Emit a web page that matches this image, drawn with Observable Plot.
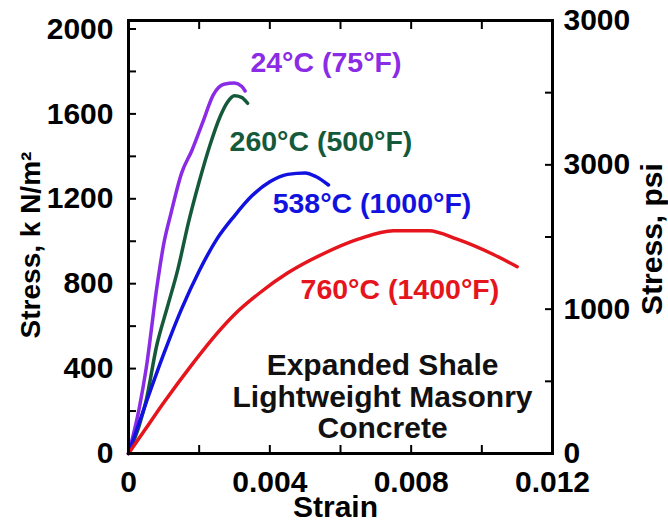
<!DOCTYPE html>
<html><head><meta charset="utf-8">
<script src="https://cdn.jsdelivr.net/npm/d3@7"></script>
<script src="https://cdn.jsdelivr.net/npm/@observablehq/plot@0.6"></script>
<style>body{margin:0;background:#fff} svg{display:block}</style>
</head><body><div id="chart"></div>
<script>
const seriesNames = ["24°C (75°F)", "260°C (500°F)", "538°C (1000°F)", "760°C (1400°F)"];
const seriesColors = ["#8a2be6", "#145a3a", "#1212e0", "#e6141c"];

const strain24 = [0, 0.0003, 0.0005, 0.0008, 0.001, 0.0012, 0.0015, 0.0018, 0.0021, 0.0024, 0.0027, 0.003, 0.0032, 0.0033];
const stress24 = [0, 210, 400, 780, 990, 1130, 1320, 1430, 1560, 1690, 1740, 1745, 1730, 1708];
const strain260 = [0, 0.0003, 0.0005, 0.0008, 0.0011, 0.0014, 0.0017, 0.002, 0.0023, 0.0026, 0.0028, 0.003, 0.0032, 0.00337];
const stress260 = [0, 130, 250, 510, 690, 870, 1090, 1280, 1450, 1590, 1655, 1685, 1678, 1650];
const strain538 = [0, 0.0005, 0.001, 0.0015, 0.002, 0.0025, 0.003, 0.0035, 0.004, 0.0045, 0.005, 0.0053, 0.00566];
const stress538 = [0, 240, 470, 680, 860, 1010, 1120, 1215, 1280, 1315, 1322, 1305, 1265];
const strain760 = [0, 0.0005, 0.001, 0.0018, 0.0025, 0.003, 0.0037, 0.0045, 0.0055, 0.0065, 0.0075, 0.0085, 0.0093, 0.0103, 0.011];
const stress760 = [0, 120, 240, 420, 565, 655, 755, 850, 940, 1010, 1050, 1050, 1010, 940, 880];

// label anchor points (strain, stress)
const labelStrain = [0.00345, 0.00286, 0.00408, 0.00487];
const labelStress = [1840, 1468, 1176, 772];

const noteText = "Expanded Shale\nLightweight Masonry\nConcrete";
const noteStrain = 0.00719;
const noteStress = 268;

const xTicks = [0, 0.002, 0.004, 0.006, 0.008, 0.010, 0.012];
const xLabelTicks = [0, 0.004, 0.008, 0.012];
const xTickLabels = ["0", "0.004", "0.008", "0.012"];
const yTicks = [0, 200, 400, 600, 800, 1000, 1200, 1400, 1600, 1800, 2000];
const yLabelTicks = [0, 400, 800, 1200, 1600, 2000];
const yTickLabels = ["0", "400", "800", "1200", "1600", "2000"];
const psiTicks = [0, 500, 1000, 1500, 2000, 2500, 3000];
const psiLabelTicks = [0, 1000, 2000, 3000];
const psiTickLabels = ["0", "1000", "3000", "3000"];
const yMax = 2040;
const psiMax = 3000;
const toKN = v => v * yMax / psiMax;

const series = [
  [strain24, stress24], [strain260, stress260], [strain538, stress538], [strain760, stress760]
];
const rows = series.flatMap(([xs, ys], i) => xs.map((x, j) => ({series: seriesNames[i], strain: x, stress: ys[j]})));
const labelRows = seriesNames.map((s, i) => ({series: s, strain: labelStrain[i], stress: labelStress[i]}));

const font = "Liberation Sans, Arial, Helvetica, sans-serif";
const lookup = (vals, labs, f = v => v) => d => {
  const i = vals.findIndex(v => Math.abs(f(v) - d) < 1e-9);
  return i < 0 ? "" : labs[i];
};

const chart = Plot.plot({
  width: 668, height: 523,
  marginLeft: 128, marginRight: 116, marginTop: 20, marginBottom: 70,
  style: {fontFamily: font, fontWeight: "bold", fontSize: "30px", background: "#fff"},
  x: {domain: [0, 0.012], axis: null},
  y: {domain: [0, yMax], axis: null},
  color: {domain: seriesNames, range: seriesColors},
  marks: [
    Plot.line(rows, {x: "strain", y: "stress", z: "series", stroke: "series", strokeWidth: 3.5, curve: "monotone-x"}),
    Plot.text(labelRows, {x: "strain", y: "stress", text: "series", fill: "series", textAnchor: "start", lineAnchor: "middle", fontSize: 28.5, fontWeight: "bold"}),
    Plot.text([noteText], {x: noteStrain, y: noteStress, text: d => d, textAnchor: "middle", lineAnchor: "middle", fontSize: 30, fontWeight: "bold", lineHeight: 1.04, fill: "#111"}),
    // inward ticks
    Plot.axisY(yTicks, {anchor: "left", label: null, tickSize: 8, dx: 8, strokeWidth: 2, tickFormat: () => ""}),
    Plot.axisY(psiTicks.map(toKN), {anchor: "right", label: null, tickSize: 8, dx: -8, strokeWidth: 2, tickFormat: () => ""}),
    Plot.axisX(xTicks, {anchor: "bottom", label: null, tickSize: 8, dy: -8, strokeWidth: 2, tickFormat: () => ""}),
    Plot.axisX(xTicks, {anchor: "top", label: null, tickSize: 8, dy: 8, strokeWidth: 2, tickFormat: () => ""}),
    // tick labels
    Plot.axisY(yLabelTicks, {anchor: "left", label: null, tickSize: 0, tickPadding: 15, fontSize: 30, fontWeight: "bold", tickFormat: lookup(yLabelTicks, yTickLabels)}),
    Plot.axisY(psiLabelTicks.map(toKN), {anchor: "right", label: null, tickSize: 0, tickPadding: 11, fontSize: 30, fontWeight: "bold", tickFormat: lookup(psiLabelTicks, psiTickLabels, toKN)}),
    Plot.axisX(xLabelTicks, {anchor: "bottom", label: null, tickSize: 0, tickPadding: 17, fontSize: 30, fontWeight: "bold", tickFormat: lookup(xLabelTicks, xTickLabels)}),
    // axis titles
    Plot.text(["Strain"], {frameAnchor: "bottom", text: d => d, textAnchor: "middle", lineAnchor: "middle", dy: 54, dx: -5, fontSize: 30, fontWeight: "bold"}),
    Plot.text(["Stress, k N/m²"], {frameAnchor: "left", text: d => d, textAnchor: "middle", lineAnchor: "middle", dx: -97, dy: 8, rotate: -90, fontSize: 28, fontWeight: "bold"}),
    Plot.text(["Stress, psi"], {frameAnchor: "right", text: d => d, textAnchor: "middle", lineAnchor: "middle", dx: 100, dy: 2, rotate: -90, fontSize: 30, fontWeight: "bold"}),
    Plot.frame({stroke: "#000", strokeWidth: 3})
  ]
});
document.getElementById("chart").appendChild(chart);
</script>
</body></html>
